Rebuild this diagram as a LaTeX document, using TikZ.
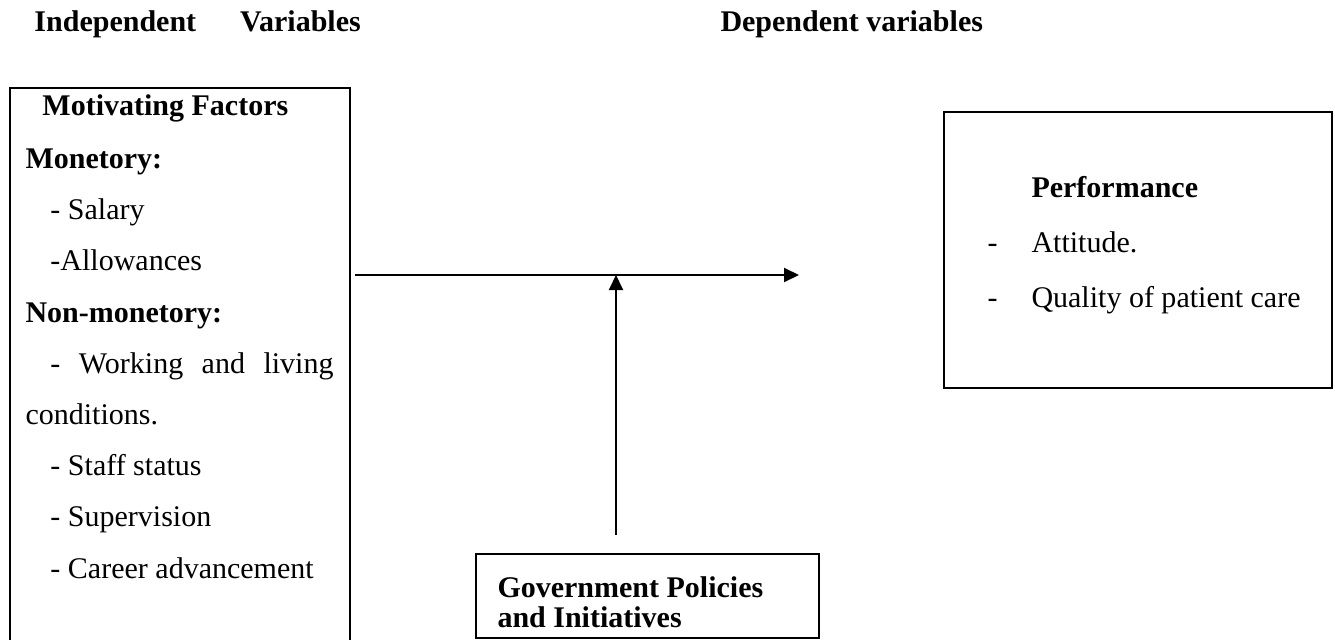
\documentclass[tikz,border=0pt]{standalone}
\usepackage{fontspec}
\setmainfont{Liberation Serif}
\usetikzlibrary{arrows.meta,positioning}

\begin{document}
\begin{tikzpicture}[
    x=0.4pt, y=-0.4pt,
    box/.style={draw, line width=0.8pt, inner sep=0pt},
    txt/.style={anchor=base west, inner sep=0pt, font=\fontsize{12}{14}\selectfont},
    head/.style={txt, font=\fontsize{12}{14}\selectfont\bfseries},
    arrow/.style={-{Triangle[length=6pt,width=5.6pt]}, line width=0.8pt}
]
\useasboundingbox (0,0) rectangle (1335,640);

% titles
\node[head] (indep) at (34,32) {Independent\hspace{17.6pt}Variables};
\node[head] (dep) at (720,32) {Dependent variables};

% independent variables
\node[box, minimum width=136pt, minimum height=228.8pt] (factors) at (180,374) {};
\node[head] (mot) at (42,115) {Motivating Factors};
\node[head] (mon) at (25,168) {Monetory:};
\node[txt] (sal) at (50,219) {- Salary};
\node[txt] (allow) at (50,270) {-Allowances};
\node[head] (nonmon) at (25,322) {Non-monetory:};
\node[txt] (work) at (50,373) {\makebox[113.2pt][s]{- Working and living}};
\node[txt] (cond) at (25,424) {conditions.};
\node[txt] (staff) at (50,475) {- Staff status};
\node[txt] (sup) at (50,526) {- Supervision};
\node[txt] (career) at (50,578) {- Career advancement};

% dependent variable
\node[box, minimum width=155.2pt, minimum height=110.4pt] (perf) at (1138,250) {};
\node[head] (perftitle) at (1031,197) {Performance};
\node[txt] (dash1) at (987,252) {-};
\node[txt] (att) at (1031,252) {Attitude.};
\node[txt] (dash2) at (987,307) {-};
\node[txt] (qual) at (1031,307) {Quality of patient care};

% moderating variable
\node[box, minimum width=137.2pt, minimum height=33.6pt] (gov) at (647.5,596) {};
\node[head] (gov1) at (497,597) {Government Policies};
\node[head] (gov2) at (497,627) {and Initiatives};

\coordinate (join) at (616,275);
\coordinate (tip) at (799,275);

\draw[arrow, shorten <=1.6pt] (factors.east |- join) -- (tip);
\draw[arrow, shorten <=7.2pt] (gov.north -| join) -- (join);
\end{tikzpicture}
\end{document}
